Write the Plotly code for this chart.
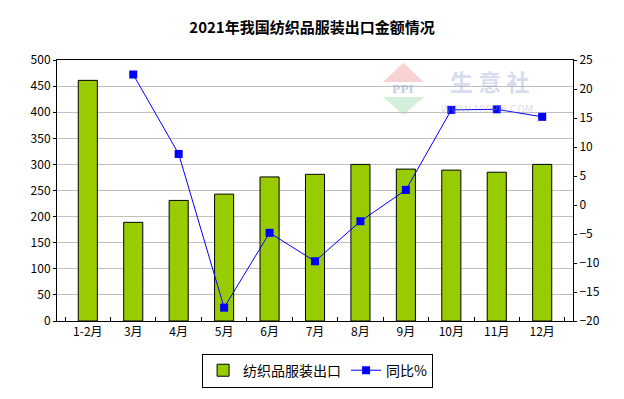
import plotly.graph_objects as go

categories = ["1-2月", "3月", "4月", "5月", "6月", "7月", "8月", "9月", "10月", "11月", "12月"]
export_values = [461, 189, 231, 243, 276, 281, 300, 291, 289, 285, 300]
yoy_values = [None, 22.5, 8.8, -17.7, -4.8, -9.7, -2.8, 2.6, 16.4, 16.5, 15.2]

FONT = "Noto Sans CJK SC"

fig = go.Figure()
fig.add_trace(go.Bar(
    x=categories, y=export_values, name="纺织品服装出口",
    marker=dict(color="#99CC00", line=dict(color="black", width=1)),
    yaxis="y",
))
fig.add_trace(go.Scatter(
    x=categories, y=yoy_values, name="同比%", mode="lines+markers",
    line=dict(color="#0000FF", width=1),
    marker=dict(symbol="square", size=8, color="#0000FF"),
    yaxis="y2",
))

# watermark (logo triangles + text)
fig.add_shape(type="path", xref="paper", yref="paper",
              path="M 0.632 0.916 L 0.671 0.989 L 0.711 0.916 Z",
              fillcolor="rgba(235,130,130,0.35)", line=dict(width=0), layer="below")
fig.add_shape(type="path", xref="paper", yref="paper",
              path="M 0.632 0.858 L 0.671 0.789 L 0.711 0.858 Z",
              fillcolor="rgba(130,205,150,0.35)", line=dict(width=0), layer="below")
fig.add_annotation(text="<b>PPI</b>", xref="paper", yref="paper", x=0.671, y=0.887,
                   xanchor="center", yanchor="middle",
                   showarrow=False, font=dict(family="DejaVu Serif", size=11, color="rgba(150,165,200,0.55)"))
fig.add_annotation(text="<b>生 意 社</b>", xref="paper", yref="paper", x=0.838, y=0.918,
                   xanchor="center", yanchor="middle",
                   showarrow=False, font=dict(family=FONT, size=23, color="rgba(150,165,210,0.4)"))
fig.add_annotation(text="WWW.100PPI.COM", xref="paper", yref="paper", x=0.833, y=0.812,
                   xanchor="center", yanchor="middle",
                   showarrow=False, font=dict(family="DejaVu Sans", size=10, color="rgba(170,170,170,0.4)"))

fig.update_layout(
    width=624, height=399,
    margin=dict(l=57, r=51, t=60, b=78, autoexpand=False),
    paper_bgcolor="white", plot_bgcolor="white",
    font=dict(family=FONT, size=12, color="black"),
    title=dict(text="<b>2021年我国纺织品服装出口金额情况</b>", x=0.5, xanchor="center",
               y=0.93, yanchor="middle", font=dict(family=FONT, size=15, color="black")),
    bargap=0.58,
    showlegend=True,
    legend=dict(orientation="h", x=0.505, xanchor="center", y=-0.125, yanchor="top",
                bordercolor="black", borderwidth=1, font=dict(family=FONT, size=14),
                itemwidth=30, tracegroupgap=0),
    xaxis=dict(showline=True, linecolor="black", linewidth=1, mirror=True, automargin=False,
               ticks="inside", tickson="boundaries", ticklen=4, tickcolor="black",
               tickfont=dict(family=FONT, size=12)),
    yaxis=dict(range=[0, 500], dtick=50, showline=True, linecolor="black", linewidth=1,
               mirror=True, showgrid=True, gridcolor="#C0C0C0", gridwidth=1, automargin=False,
               ticks="outside", ticklen=3, tickcolor="black", zeroline=False,
               tickfont=dict(family=FONT, size=12)),
    yaxis2=dict(range=[-20, 25], dtick=5, overlaying="y", side="right", automargin=False,
                showgrid=False, zeroline=False, showline=True, linecolor="black",
                ticks="outside", ticklen=3, tickcolor="black",
                tickfont=dict(family=FONT, size=12)),
)

fig.write_html("out.html", config={"displayModeBar": False},
               post_script="document.body.style.margin='0';document.body.style.padding='0';")
